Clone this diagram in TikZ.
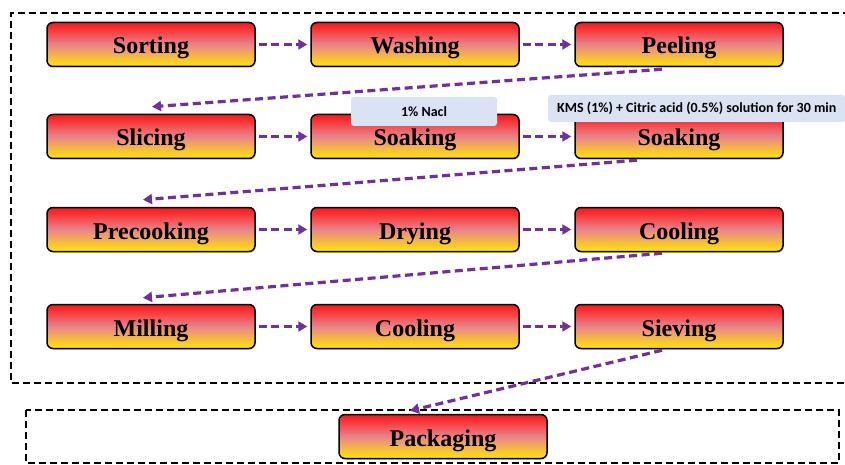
\documentclass[tikz,border=0pt]{standalone}
\usepackage{fontspec}
\setmainfont{Liberation Serif}
\newfontfamily\labfont{Carlito}
\usetikzlibrary{arrows.meta,calc,shadows}
\definecolor{arrowpurple}{HTML}{7030A0}
\definecolor{boxred}{HTML}{FF1414}
\definecolor{boxpink}{HTML}{E8848C}
\definecolor{boxyellow}{HTML}{FFE800}
\definecolor{labelblue}{HTML}{DAE3F3}
\begin{document}
\begin{tikzpicture}[x=1pt,y=-1pt,
  procbox/.style={draw=black, line width=1.5pt, rounded corners=6pt,
    minimum width=208pt, minimum height=44pt,
    top color=boxred, bottom color=boxyellow, middle color=boxpink,
    font=\bfseries\fontsize{24}{26}\selectfont, inner sep=0pt,
    text height=19pt, text depth=0pt,
    drop shadow={opacity=0.25, shadow xshift=1pt, shadow yshift=-1.5pt}},
  flow/.style={draw=arrowpurple, line width=3.2pt, dash pattern=on 8pt off 4.5pt,
    -{Triangle[length=9pt,width=10pt]}},
  hflow/.style={flow, shorten <=3pt, shorten >=3pt},
  note/.style={fill=labelblue, rounded corners=3pt,
    font=\labfont\bfseries\fontsize{14}{16}\selectfont, inner sep=0pt},
  frame/.style={draw=black, line width=1.8pt, dash pattern=on 7pt off 4pt}]
\useasboundingbox (0,0) rectangle (845,465);
\clip (0,0) rectangle (845,465);
\fill[white] (0,0) rectangle (845,465);

% frames
\draw[frame] (850,13) -- (11,13) -- (11,383) -- (850,383);
\draw[frame] (26,410) rectangle (839,463);

% boxes
\node[procbox] (sorting)   at (151,44.5)  {Sorting};
\node[procbox] (washing)   at (415,44.5)  {Washing};
\node[procbox] (peeling)   at (679,44.5)  {Peeling};
\node[procbox] (slicing)   at (151,136.5) {Slicing};
\node[procbox] (soakA)     at (415,136.5) {Soaking};
\node[procbox] (soakB)     at (679,136.5) {Soaking};
\node[procbox] (precook)   at (151,229.5) {Precooking};
\node[procbox] (drying)    at (415,229.5) {Drying};
\node[procbox] (coolA)     at (679,229.5) {Cooling};
\node[procbox] (milling)   at (151,326.5) {Milling};
\node[procbox] (coolB)     at (415,326.5) {Cooling};
\node[procbox] (sieving)   at (679,326.5) {Sieving};
\node[procbox] (packaging) at (443,436.5) {Packaging};

% horizontal arrows
\draw[hflow] (sorting) -- (washing);
\draw[hflow] (washing) -- (peeling);
\draw[hflow] (slicing) -- (soakA);
\draw[hflow] (soakA) -- (soakB);
\draw[hflow] (precook) -- (drying);
\draw[hflow] (drying) -- (coolA);
\draw[hflow] (milling) -- (coolB);
\draw[hflow] (coolB) -- (sieving);

% diagonal arrows
\coordinate (d1s) at ($(peeling.south)+(-17,2)$);
\coordinate (d1e) at ($(slicing.north)+(1,-7)$);
\coordinate (d2s) at ($(soakB.south)+(-42,1)$);
\coordinate (d2e) at ($(precook.north)+(-8,-7)$);
\coordinate (d3s) at ($(coolA.south)+(-17,1)$);
\coordinate (d3e) at ($(milling.north)+(-8,-6)$);
\coordinate (d4s) at ($(sieving.south)+(-17,1)$);
\coordinate (d4e) at ($(packaging.north)+(-33,-3)$);
\draw[flow] (d1s) -- (d1e);
\draw[flow] (d2s) -- (d2e);
\draw[flow] (d3s) -- (d3e);
\draw[flow] (d4s) -- (d4e);

% notes
\node[note, minimum width=146pt, minimum height=29pt] (nacl) at (424,111.5) {1\% Nacl};
\node[note, anchor=west, minimum height=27pt, inner xsep=9pt] (kms) at (548,108.5)
  {KMS (1\%) + Citric acid (0.5\%) solution for 30 min};
\end{tikzpicture}
\end{document}
